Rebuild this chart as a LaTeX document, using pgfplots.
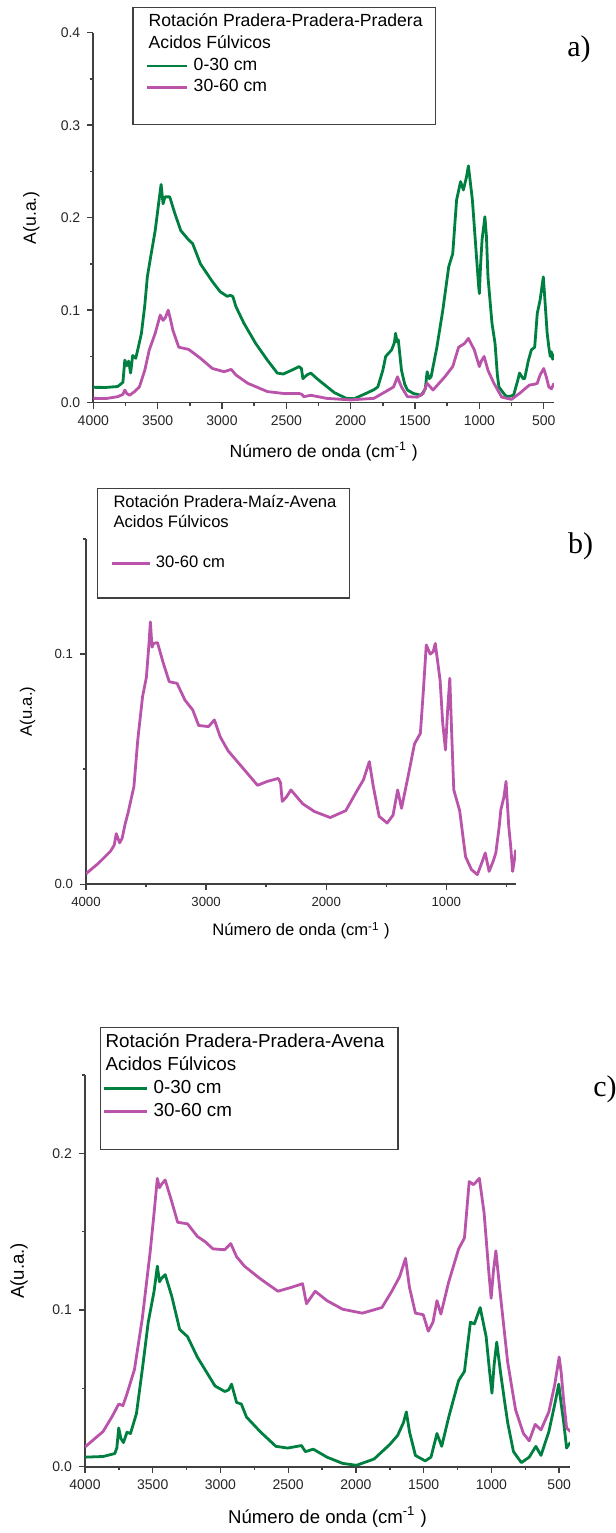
\documentclass[border=0pt]{standalone}
\usepackage{pgfplots}
\pgfplotsset{compat=1.18}
\usepackage{fontspec}
\setmainfont{Liberation Sans}
\newfontfamily\timesfont{Liberation Serif}
\definecolor{pgreen}{RGB}{0,128,64}
\definecolor{pmag}{RGB}{186,84,170}
\definecolor{axgray}{RGB}{64,64,64}

\pgfplotsset{
  spec/.style={
    scale only axis, anchor=south west,
    x dir=reverse, xmin=420, xmax=4000,
    axis x line*=bottom, axis y line*=left,
    axis line style={-, draw=axgray, line width=0.8pt},
    tick align=outside, major tick length=3pt, minor tick length=1.6pt,
    tick style={draw=axgray, line width=0.7pt},
    /pgf/number format/assume math mode=true,
    /pgf/number format/1000 sep={},
    y tick label style={/pgf/number format/.cd, fixed, fixed zerofill, precision=1, /tikz/.cd},
    tick label style={text=black!85},
    legend cell align=left,
    every axis plot/.append style={line width=1.4pt, line join=round, no markers},
    xlabel={Número de onda (cm\textsuperscript{-1} )},
    ylabel={A(u.a.)},
  }
}

\begin{document}
\begin{tikzpicture}
\useasboundingbox (0pt,0pt) rectangle (308pt,766.5pt);

% ---------------- panel a ----------------
\begin{axis}[spec, at={(46.65pt,565.15pt)}, width=230.35pt, height=185pt,
  ymin=0, ymax=0.4, ytick={0,0.1,0.2,0.3,0.4}, minor y tick num=1,
  xtick={500,1000,...,4000}, minor x tick num=1,
  tick label style={font=\fontsize{7}{8}\selectfont},
  label style={font=\fontsize{8.8}{10}\selectfont},
  xlabel style={at={(axis description cs:0.5,-0.1324)}, anchor=center},
  ylabel style={at={(axis description cs:-0.1346,0.5)}, anchor=center},
  legend image code/.code={\draw[#1, line width=1.4pt] (0pt,0pt) -- (20pt,0pt);},
  legend style={at={(axis description cs:0.0847,1.0703)}, anchor=north west,
    draw=axgray, line width=0.6pt, fill=white, font=\fontsize{8.8}{10}\selectfont,
    inner xsep=6.5pt, inner ysep=3.2pt, row sep=1.85pt, column sep=2.5pt,
    nodes={inner sep=0pt, text height=6.6pt, text depth=2.4pt}},
]
\addlegendimage{empty legend}\addlegendentry{\hspace*{-22.5pt}Rotación Pradera-Pradera-Pradera}
\addlegendimage{empty legend}\addlegendentry{\hspace*{-22.5pt}Acidos Fúlvicos}
\addplot[pgreen] coordinates {
(4000,0.0166)(3900,0.0165)(3810,0.0175)(3770,0.022)(3755,0.046)(3740,0.040)(3725,0.045)(3710,0.032)(3694,0.051)(3670,0.048)(3650,0.060)(3626,0.075)(3600,0.105)(3580,0.136)(3550,0.161)(3519,0.186)(3489,0.219)(3473,0.236)(3458,0.215)(3443,0.2225)(3406,0.2225)(3366,0.2045)(3320,0.186)(3259,0.176)(3228,0.172)(3167,0.150)(3075,0.131)(3014,0.120)(2960,0.115)(2937,0.116)(2916,0.115)(2892,0.104)(2830,0.086)(2738,0.064)(2647,0.046)(2570,0.032)(2524,0.031)(2460,0.035)(2401,0.039)(2383,0.037)(2371,0.026)(2340,0.030)(2310,0.032)(2249,0.0245)(2126,0.0108)(2034,0.0047)(1973,0.0043)(1881,0.010)(1820,0.014)(1789,0.017)(1750,0.035)(1728,0.050)(1682,0.057)(1660,0.065)(1651,0.075)(1640,0.066)(1630,0.068)(1605,0.035)(1580,0.020)(1559,0.0137)(1513,0.010)(1452,0.008)(1420,0.015)(1406,0.0335)(1390,0.026)(1375,0.028)(1330,0.060)(1284,0.100)(1238,0.147)(1207,0.161)(1177,0.219)(1146,0.239)(1124,0.230)(1100,0.244)(1085,0.256)(1054,0.219)(1024,0.161)(1005,0.125)(1000,0.118)(990,0.150)(979,0.176)(957,0.201)(945,0.180)(933,0.136)(902,0.086)(878,0.064)(860,0.030)(848,0.017)(800,0.008)(780,0.0065)(734,0.008)(700,0.025)(688,0.032)(660,0.026)(648,0.026)(620,0.045)(596,0.057)(570,0.060)(550,0.0965)(528,0.111)(503,0.136)(490,0.110)(473,0.075)(460,0.060)(449,0.050)(440,0.055)(430,0.047)(420,0.053)
};
\addlegendentry{0-30 cm}
\addplot[pmag] coordinates {
(4000,0.0047)(3900,0.0045)(3810,0.0065)(3770,0.009)(3755,0.0137)(3740,0.010)(3718,0.008)(3680,0.012)(3642,0.017)(3600,0.035)(3565,0.057)(3519,0.075)(3480,0.0947)(3458,0.089)(3440,0.092)(3418,0.100)(3400,0.090)(3382,0.0785)(3336,0.060)(3259,0.0576)(3167,0.048)(3075,0.037)(2983,0.0335)(2928,0.036)(2892,0.030)(2800,0.021)(2647,0.012)(2524,0.010)(2401,0.010)(2380,0.009)(2364,0.0065)(2310,0.008)(2187,0.0047)(2003,0.003)(1820,0.0047)(1728,0.012)(1667,0.017)(1636,0.028)(1620,0.022)(1605,0.017)(1559,0.0065)(1482,0.006)(1436,0.010)(1406,0.021)(1360,0.0137)(1268,0.028)(1207,0.039)(1161,0.060)(1115,0.064)(1085,0.0695)(1039,0.057)(1000,0.039)(985,0.045)(963,0.050)(933,0.035)(887,0.021)(826,0.006)(750,0.0036)(688,0.010)(612,0.019)(570,0.020)(550,0.021)(528,0.030)(500,0.037)(480,0.028)(460,0.017)(440,0.015)(420,0.021)
};
\addlegendentry{30-60 cm}
\addlegendimage{empty legend}\addlegendentry{\mbox{}}
\end{axis}

% ---------------- panel b ----------------
\begin{axis}[spec, at={(43pt,324.35pt)}, width=215pt, height=172.65pt,
  ymin=0, ymax=0.15, ytick={0,0.1}, minor ytick={0.05,0.15},
  xtick={1000,2000,3000,4000}, minor xtick={500,1500,2500,3500},
  tick label style={font=\fontsize{6.6}{8}\selectfont},
  label style={font=\fontsize{8.3}{10}\selectfont},
  xlabel style={at={(axis description cs:0.5,-0.1344)}, anchor=center},
  ylabel style={at={(axis description cs:-0.136,0.5)}, anchor=center},
  legend image code/.code={\draw[#1, line width=1.4pt] (0pt,0pt) -- (18.8pt,0pt);},
  legend style={at={(axis description cs:0.0249,1.1486)}, anchor=north west,
    draw=axgray, line width=0.6pt, fill=white, font=\fontsize{8.3}{10}\selectfont,
    inner xsep=6.7pt, inner ysep=3.3pt, row sep=1.7pt, column sep=2.4pt,
    nodes={inner sep=0pt, text height=6.3pt, text depth=2.0pt}},
]
\addlegendimage{empty legend}\addlegendentry{\hspace*{-21.2pt}Rotación Pradera-Maíz-Avena}
\addlegendimage{empty legend}\addlegendentry{\hspace*{-21.2pt}Acidos Fúlvicos}
\addlegendimage{empty legend}\addlegendentry{\mbox{}}
\addplot[pmag] coordinates {
(4000,0.0045)(3993,0.0049)(3895,0.0092)(3797,0.0143)(3765,0.017)(3748,0.022)(3720,0.018)(3699,0.020)(3675,0.026)(3650,0.031)(3601,0.0425)(3569,0.0627)(3529,0.0815)(3497,0.090)(3475,0.105)(3464,0.114)(3450,0.103)(3438,0.1046)(3405,0.105)(3356,0.096)(3307,0.088)(3242,0.0873)(3176,0.080)(3111,0.0757)(3062,0.069)(2980,0.0685)(2931,0.0714)(2882,0.064)(2817,0.058)(2686,0.050)(2572,0.043)(2490,0.0447)(2399,0.046)(2380,0.044)(2366,0.036)(2330,0.038)(2294,0.041)(2196,0.035)(2098,0.0316)(1967,0.029)(1837,0.032)(1755,0.0396)(1690,0.0454)(1641,0.0533)(1608,0.0425)(1580,0.035)(1559,0.0295)(1493,0.0266)(1444,0.030)(1405,0.041)(1373,0.033)(1314,0.048)(1265,0.061)(1216,0.0656)(1190,0.085)(1167,0.104)(1134,0.100)(1110,0.101)(1092,0.1046)(1052,0.0887)(1030,0.070)(1007,0.0584)(990,0.075)(971,0.0895)(955,0.065)(938,0.041)(889,0.032)(840,0.012)(791,0.0064)(742,0.0042)(700,0.010)(676,0.0136)(644,0.0056)(610,0.010)(588,0.0136)(560,0.025)(546,0.0324)(520,0.038)(503,0.0447)(480,0.025)(464,0.0165)(448,0.0056)(435,0.010)(422,0.015)
};
\addlegendentry{30-60 cm}
\addlegendimage{empty legend}\addlegendentry{\mbox{}}
\end{axis}

% ---------------- panel c ----------------
\begin{axis}[spec, at={(42.5pt,33.15pt)}, width=242.5pt, height=195.85pt,
  ymin=0, ymax=0.25, ytick={0,0.1,0.2}, minor ytick={0.05,0.15,0.25},
  xtick={500,1000,...,4000}, minor x tick num=1,
  tick label style={font=\fontsize{7}{8}\selectfont},
  label style={font=\fontsize{9.3}{11}\selectfont},
  xlabel style={at={(axis description cs:0.5,-0.1277)}, anchor=center},
  ylabel style={at={(axis description cs:-0.136,0.5)}, anchor=center},
  legend image code/.code={\draw[#1, line width=1.4pt] (0pt,0pt) -- (21.5pt,0pt);},
  legend style={at={(axis description cs:0.0315,1.1233)}, anchor=north west,
    draw=axgray, line width=0.6pt, fill=white, font=\fontsize{9.4}{11}\selectfont,
    inner xsep=1pt, inner ysep=2.9pt, row sep=2.1pt, column sep=2.5pt,
    nodes={inner sep=0pt, text height=7pt, text depth=2.4pt}},
]
\addlegendimage{empty legend}\addlegendentry{\hspace*{-24pt}Rotación Pradera-Pradera-Avena\hspace*{5.8pt}}
\addlegendimage{empty legend}\addlegendentry{\hspace*{-24pt}Acidos Fúlvicos}
\addplot[pgreen] coordinates {
(4000,0.0061)(3867,0.0065)(3780,0.0084)(3765,0.012)(3751,0.0247)(3735,0.018)(3716,0.0154)(3690,0.022)(3664,0.0212)(3620,0.034)(3577,0.062)(3533,0.0923)(3490,0.112)(3466,0.128)(3450,0.118)(3437,0.120)(3408,0.1226)(3359,0.1086)(3301,0.0876)(3243,0.083)(3171,0.070)(3098,0.0597)(3040,0.0515)(2968,0.048)(2940,0.049)(2918,0.0527)(2881,0.041)(2846,0.040)(2808,0.0317)(2707,0.0224)(2591,0.013)(2504,0.0119)(2402,0.0135)(2373,0.0096)(2315,0.0112)(2214,0.0061)(2098,0.0021)(1996,0.0009)(1866,0.0049)(1750,0.0142)(1692,0.020)(1649,0.0282)(1628,0.035)(1605,0.0224)(1561,0.0072)(1489,0.0037)(1446,0.0061)(1402,0.0212)(1367,0.013)(1315,0.0317)(1242,0.055)(1199,0.0608)(1155,0.0923)(1126,0.0911)(1083,0.1016)(1039,0.083)(1015,0.062)(996,0.0469)(980,0.065)(961,0.0795)(932,0.0597)(900,0.040)(880,0.0282)(837,0.0096)(779,0.0026)(721,0.0061)(672,0.013)(634,0.0072)(576,0.0224)(532,0.040)(503,0.0527)(485,0.040)(468,0.0294)(445,0.0119)(430,0.014)(416,0.0154)
};
\addlegendentry{0-30 cm}
\addplot[pmag] coordinates {
(4000,0.0126)(3867,0.0224)(3800,0.032)(3751,0.040)(3720,0.039)(3693,0.0457)(3635,0.062)(3577,0.0946)(3519,0.137)(3490,0.162)(3466,0.184)(3450,0.178)(3437,0.180)(3408,0.183)(3359,0.169)(3316,0.156)(3243,0.155)(3171,0.147)(3113,0.1436)(3055,0.139)(2968,0.1385)(2924,0.1424)(2881,0.134)(2823,0.128)(2707,0.120)(2576,0.112)(2475,0.1145)(2394,0.1168)(2365,0.104)(2301,0.112)(2214,0.106)(2098,0.1005)(1953,0.098)(1808,0.1016)(1735,0.112)(1677,0.1214)(1634,0.133)(1605,0.1145)(1561,0.098)(1503,0.097)(1466,0.0865)(1431,0.0923)(1402,0.106)(1373,0.0974)(1315,0.118)(1242,0.139)(1199,0.146)(1164,0.182)(1132,0.180)(1089,0.184)(1054,0.162)(1020,0.125)(1002,0.1075)(985,0.125)(967,0.1378)(938,0.113)(880,0.0667)(822,0.0364)(764,0.0212)(721,0.0165)(677,0.027)(634,0.0235)(576,0.035)(532,0.0527)(500,0.070)(485,0.060)(468,0.0434)(445,0.0247)(416,0.0224)
};
\addlegendentry{30-60 cm}
\addlegendimage{empty legend}\addlegendentry{\mbox{}}
\end{axis}

\node[font=\timesfont\fontsize{15}{17}\selectfont, inner sep=0pt] at (289.5pt,741.75pt) {a)};
\node[font=\timesfont\fontsize{15}{17}\selectfont, inner sep=0pt] at (290.25pt,493.25pt) {b)};
\node[font=\timesfont\fontsize{15}{17}\selectfont, inner sep=0pt, anchor=west] at (296.5pt,222pt) {c)};
\end{tikzpicture}
\end{document}
